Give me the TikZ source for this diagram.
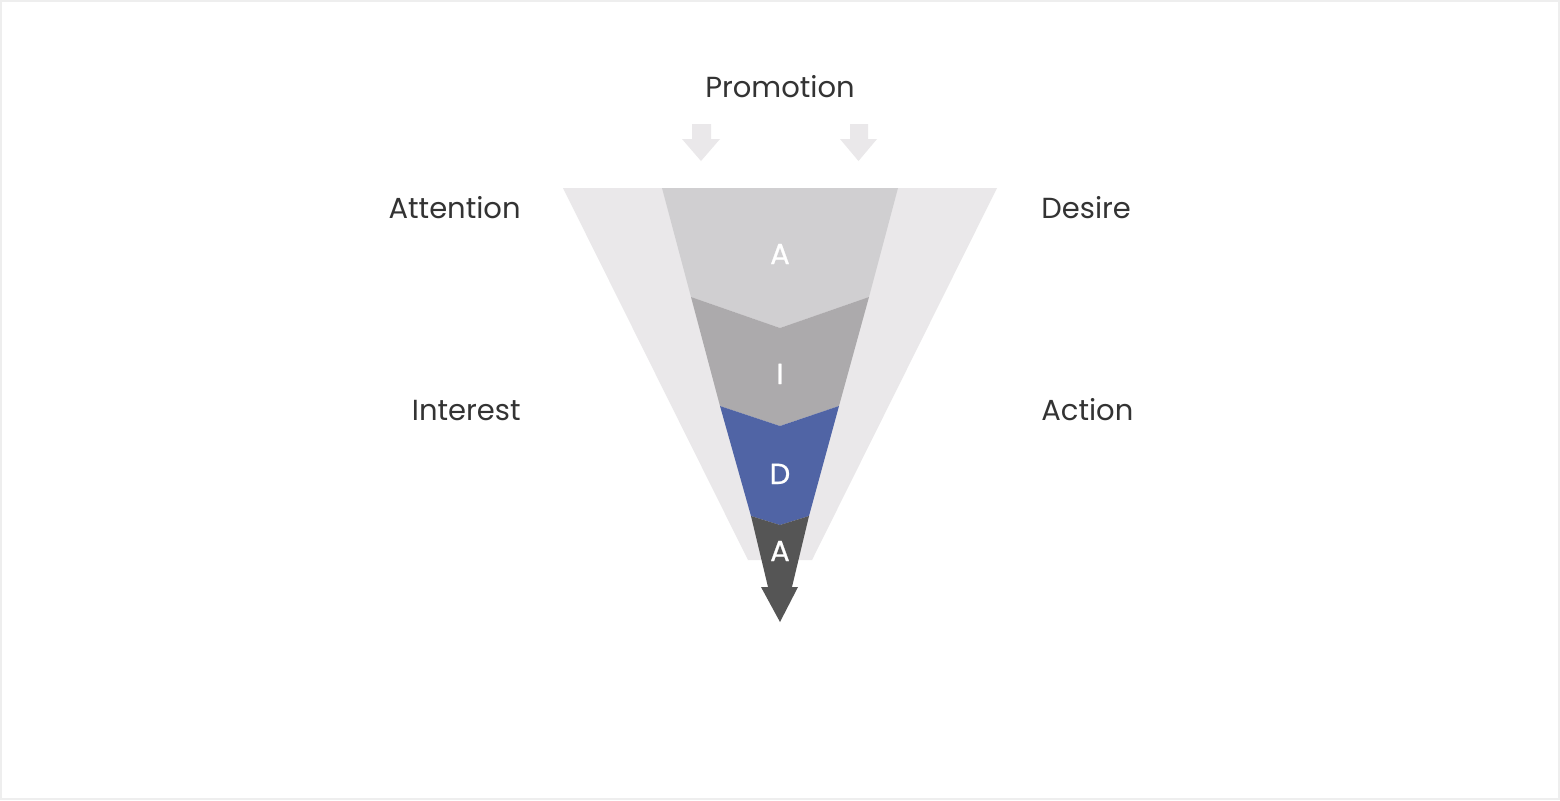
\documentclass[tikz,border=0pt]{standalone}
\usepackage{fontspec}
\setmainfont{Poppins}
\newfontfamily\segfont[FakeBold=0.8]{Poppins}
\definecolor{pale}{HTML}{EAE8EA}
\definecolor{segA}{HTML}{D0CFD1}
\definecolor{segI}{HTML}{ACAAAC}
\definecolor{segD}{HTML}{5064A5}
\definecolor{segE}{HTML}{555555}
\definecolor{txt}{HTML}{333333}
\definecolor{frame}{HTML}{EEEEEE}
\begin{document}
\begin{tikzpicture}[x=0.5pt,y=-0.5pt,
  lbl/.style={font=\fontsize{14.5pt}{17pt}\selectfont,text=txt,inner sep=0pt},
  seglbl/.style={font=\segfont\fontsize{14.5pt}{17pt}\selectfont,text=white,inner sep=0pt,anchor=base}]
\useasboundingbox (0,0) rectangle (1560,800);
\fill[white] (0,0) rectangle (1560,800);
\draw[frame,line width=1pt] (1,1) rectangle (1559,799);
% outer pale funnel
\fill[pale] (563,188) -- (997,188) -- (812,560) -- (748,560) -- cycle;
% top arrows
\fill[pale] (692,124) -- (711,124) -- (711,139) -- (720,139) -- (701,161) -- (682,139) -- (692,139) -- cycle;
\fill[pale] (850,124) -- (868,124) -- (868,139) -- (877,139) -- (858.5,161) -- (840,139) -- (850,139) -- cycle;
% segments
\fill[segA] (662,188) -- (898,188) -- (869,297) -- (780,328) -- (691,297) -- cycle;
\fill[segI] (691,297) -- (780,328) -- (869,297) -- (839,406) -- (780,426) -- (720,406) -- cycle;
\fill[segD] (720,406) -- (780,426) -- (839,406) -- (809,516) -- (780,525) -- (751,516) -- cycle;
\fill[segE] (751,516) -- (780,525) -- (809,516) -- (792,587) -- (798,587) -- (780,622) -- (761,587) -- (768,587) -- cycle;
% segment letters
\node[seglbl] (sA) at (780,264) {A};
\node[seglbl] (sI) at (780,384) {I};
\node[seglbl] (sD) at (780,484) {D};
\node[seglbl] (sE) at (780,561) {A};
% labels
\node[lbl,anchor=base] (promo) at (780,97) {Promotion};
\node[lbl,anchor=base east] (att) at (521,218) {Attention};
\node[lbl,anchor=base east] (int) at (521,420) {Interest};
\node[lbl,anchor=base west] (des) at (1041,218) {Desire};
\node[lbl,anchor=base west] (act) at (1041,420) {Action};
\end{tikzpicture}
\end{document}
